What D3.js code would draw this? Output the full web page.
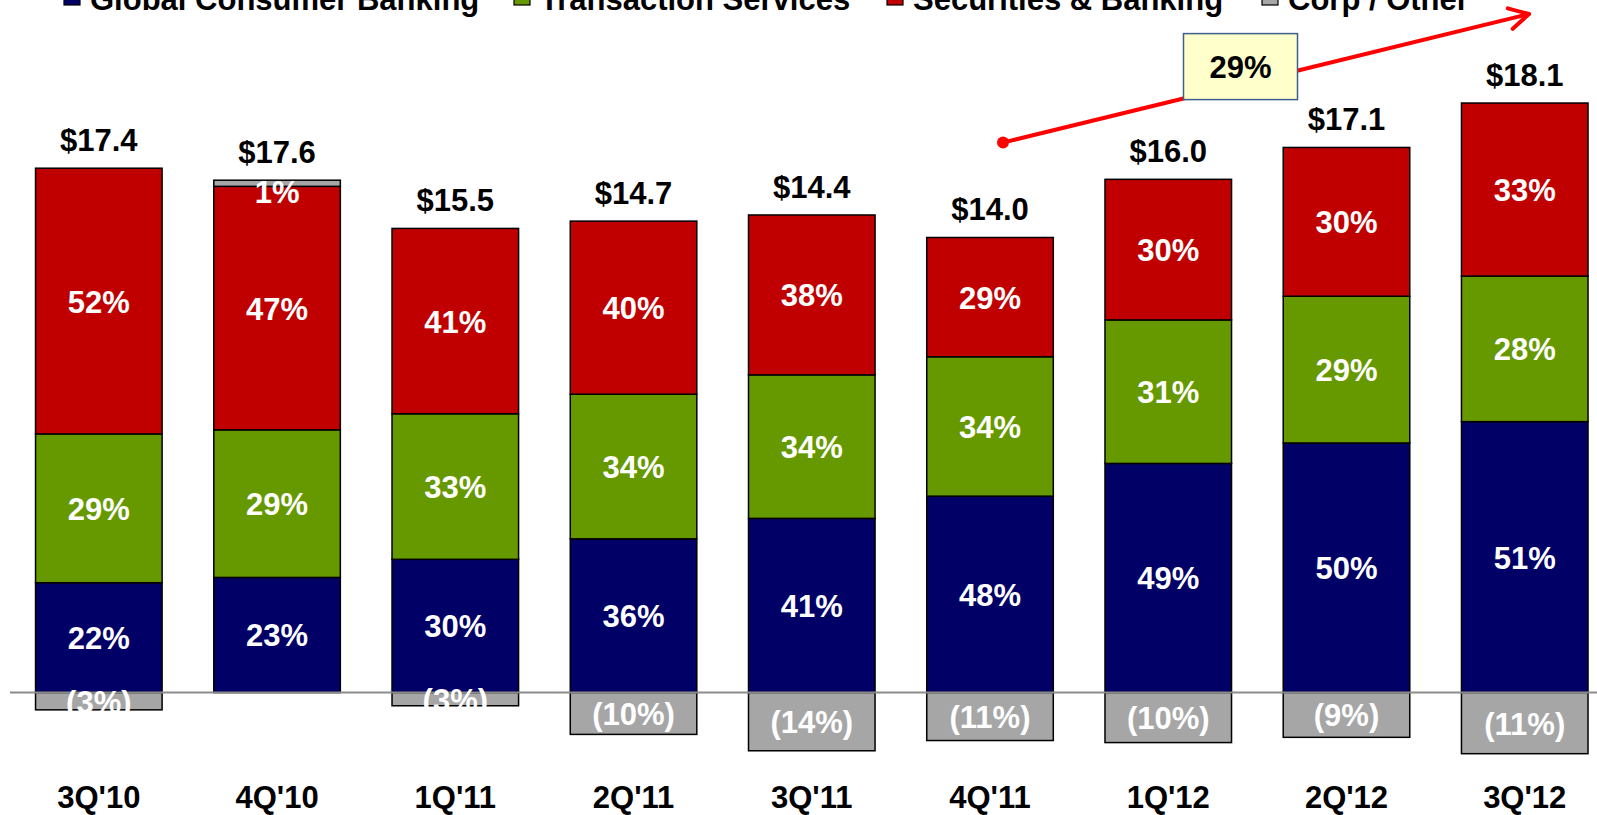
<!DOCTYPE html>
<html><head><meta charset="utf-8">
<script src="https://cdn.jsdelivr.net/npm/d3@7/dist/d3.min.js"></script>
<style>
html,body{margin:0;padding:0;background:#fff;overflow:hidden;}
svg{display:block;}
text{font-family:"Liberation Sans",Arial,Helvetica,sans-serif;font-weight:bold;}
</style></head>
<body>
<svg id="chart" width="1597" height="815"></svg>
<script>
// ---- data ----
const categories = ["3Q'10","4Q'10","1Q'11","2Q'11","3Q'11","4Q'11","1Q'12","2Q'12","3Q'12"];
const totalLabels = ["$17.4","$17.6","$15.5","$14.7","$14.4","$14.0","$16.0","$17.1","$18.1"];
const seriesNames = ["Global Consumer Banking","Transaction Services","Securities & Banking","Corp / Other"];
// segment revenues ($B)
const gcbValues  = [3.76,3.94,4.56,5.26,5.96,6.72,7.84,8.54,9.27];
const tsValues   = [5.09,5.05,4.98,4.95,4.91,4.77,4.91,5.02,4.98];
const sbValues   = [9.09,8.33,6.34,5.92,5.47,4.08,4.81,5.09,5.92];
const corpValues = [-0.59,0.21,-0.45,-1.43,-1.99,-1.64,-1.71,-1.53,-2.09];
// printed share labels
const gcbLabels  = ["22%","23%","30%","36%","41%","48%","49%","50%","51%"];
const tsLabels   = ["29%","29%","33%","34%","34%","34%","31%","29%","28%"];
const sbLabels   = ["52%","47%","41%","40%","38%","29%","30%","30%","33%"];
const corpLabels = ["(3%)","1%","(3%)","(10%)","(14%)","(11%)","(10%)","(9%)","(11%)"];
const growthLabel = "29%";

const colors = ["#000066","#669900","#c00000","#a6a6a6"];
const seriesValues = [gcbValues, tsValues, sbValues, corpValues];
const seriesLabels = [gcbLabels, tsLabels, sbLabels, corpLabels];

// ---- layout ----
const svg = d3.select("#chart");
const FS = 31;
const step = 178.24;
const x = d3.scaleBand().domain(categories)
  .range([9.7, 9.7 + step*categories.length])
  .paddingInner(0.29).paddingOuter(0.145);
const y = d3.scaleLinear().domain([-3, 21]).range([692.6 + 3*29.23, 692.6 - 21*29.23]);

// build stacked segments
const segs = [];
categories.forEach((c, i) => {
  let pos = 0, neg = 0;
  seriesValues.forEach((vals, s) => {
    const v = vals[i];
    let y0, y1;
    if (v >= 0) { y0 = pos; y1 = pos + v; pos = y1; }
    else { y0 = neg + v; y1 = neg; neg = y0; }
    segs.push({cat: c, i, s, y0, y1, label: seriesLabels[s][i]});
  });
});

const g = svg.append("g");
g.selectAll("rect.seg").data(segs).join("rect")
  .attr("class","seg")
  .attr("x", d => x(d.cat))
  .attr("width", x.bandwidth())
  .attr("y", d => y(d.y1))
  .attr("height", d => y(d.y0) - y(d.y1))
  .attr("fill", d => colors[d.s])
  .attr("stroke", "#000")
  .attr("stroke-width", 1.5);

// baseline
svg.append("line")
  .attr("x1", 10).attr("x2", 1597)
  .attr("y1", y(0)).attr("y2", y(0))
  .attr("stroke", "#8c8c8c").attr("stroke-width", 2);

// segment labels
svg.selectAll("text.seglab").data(segs).join("text")
  .attr("class","seglab")
  .attr("x", d => x(d.cat) + x.bandwidth()/2)
  .attr("y", d => {
    const c = (y(d.y0) + y(d.y1)) / 2;
    const h = y(d.y0) - y(d.y1);
    return c + 0.37*FS + (h < 12 && d.y0 >= 0 ? 8 : 0);
  })
  .attr("text-anchor","middle")
  .attr("font-size", FS)
  .attr("fill", "#fff")
  .text(d => d.label);

// total labels
const tops = categories.map((c, i) => {
  let pos = 0;
  seriesValues.forEach(v => { if (v[i] > 0) pos += v[i]; });
  return pos;
});
svg.selectAll("text.total").data(categories).join("text")
  .attr("class","total")
  .attr("x", c => x(c) + x.bandwidth()/2)
  .attr("y", (c, i) => y(tops[i]) - 17.4)
  .attr("text-anchor","middle")
  .attr("font-size", FS)
  .attr("fill", "#000")
  .text((c, i) => totalLabels[i]);

// category axis labels
svg.selectAll("text.cat").data(categories).join("text")
  .attr("class","cat")
  .attr("x", c => x(c) + x.bandwidth()/2)
  .attr("y", 808)
  .attr("text-anchor","middle")
  .attr("font-size", FS)
  .attr("fill", "#000")
  .text(c => c);

// legend (clipped at top, as in reference)
const legendX = [64, 514, 887, 1262];
const lg = svg.append("g");
seriesNames.forEach((n, s) => {
  lg.append("rect").attr("x", legendX[s]).attr("y", -11).attr("width", 16).attr("height", 16)
    .attr("fill", colors[s]).attr("stroke", "#000").attr("stroke-width", 1.2);
  lg.append("text").attr("x", legendX[s] + 26).attr("y", 10)
    .attr("font-size", FS).attr("fill", "#000").text(n);
});

// growth arrow annotation
const ax0 = 1003, ay0 = 142.6, ax1 = 1529, ay1 = 14;
svg.append("line").attr("x1", ax0).attr("y1", ay0).attr("x2", ax1).attr("y2", ay1)
  .attr("stroke", "#ff0000").attr("stroke-width", 4).attr("stroke-linecap","round");
svg.append("circle").attr("cx", ax0).attr("cy", ay0).attr("r", 6).attr("fill", "#ff0000");
const ang = Math.atan2(ay1 - ay0, ax1 - ax0);
const hl = 22, ha = 0.5;
svg.append("path")
  .attr("d", `M${ax1 - hl*Math.cos(ang - ha)},${ay1 - hl*Math.sin(ang - ha)} L${ax1},${ay1} L${ax1 - hl*Math.cos(ang + ha)},${ay1 - hl*Math.sin(ang + ha)}`)
  .attr("fill","none").attr("stroke","#ff0000").attr("stroke-width",4)
  .attr("stroke-linecap","round").attr("stroke-linejoin","round");
svg.append("rect").attr("x", 1183.5).attr("y", 33.6).attr("width", 114).attr("height", 66)
  .attr("fill", "#ffffcc").attr("stroke", "#3d5f8c").attr("stroke-width", 1.5);
svg.append("text").attr("x", 1240.5).attr("y", 66.6 + 0.36*FS)
  .attr("text-anchor","middle").attr("font-size", FS).attr("fill","#000").text(growthLabel);
</script>
</body></html>
